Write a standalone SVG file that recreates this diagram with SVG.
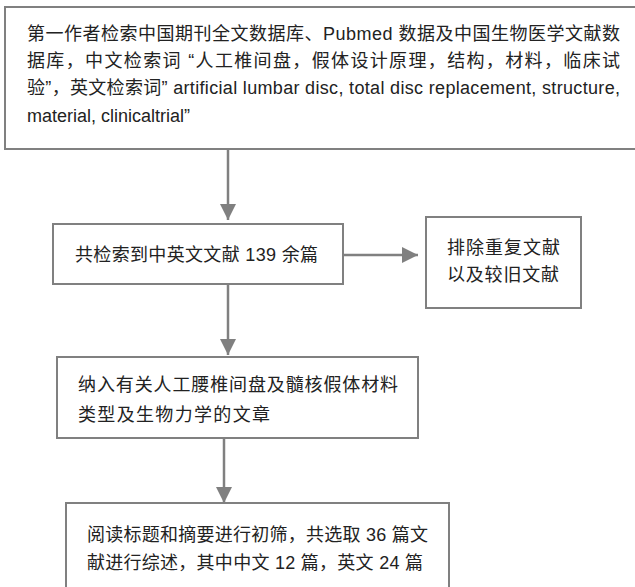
<svg xmlns="http://www.w3.org/2000/svg" width="635" height="587" viewBox="0 0 635 587">
<defs>
<style>
.box{fill:#fff;stroke:#808080;stroke-width:2}
.t{font-family:"Liberation Sans","Noto Sans CJK SC",sans-serif;font-size:18px;fill:#222}
.c{stroke:#808080;stroke-width:2.5;fill:none}
</style>
<marker id="ah" viewBox="0 0 16 16" refX="16" refY="8" markerWidth="16" markerHeight="16" markerUnits="userSpaceOnUse" orient="auto">
<path d="M0,0 L16,8 L0,16 Z" fill="#808080"/>
</marker>
</defs>
<rect width="635" height="587" fill="#fff"/>
<g id="connectors">
<line class="c" x1="228" y1="150" x2="228" y2="220" marker-end="url(#ah)"/>
<line class="c" x1="344" y1="255" x2="418" y2="255" marker-end="url(#ah)"/>
<line class="c" x1="228" y1="285" x2="228" y2="355" marker-end="url(#ah)"/>
<line class="c" x1="224" y1="439" x2="224" y2="503" marker-end="url(#ah)"/>
</g>
<g id="n1">
<rect class="box" x="5" y="7" width="640" height="142"/>
<text class="t" x="27" y="40" textLength="593" lengthAdjust="spacing">第一作者检索中国期刊全文数据库、Pubmed 数据及中国生物医学文献数</text>
<text class="t" x="27" y="67" textLength="593" lengthAdjust="spacing">据库，中文检索词 “人工椎间盘，假体设计原理，结构，材料，临床试</text>
<text class="t" x="27" y="94" textLength="593" lengthAdjust="spacing">验”，英文检索词” artificial lumbar disc, total disc replacement, structure,</text>
<text class="t" x="27" y="122">material, clinicaltrial”</text>
</g>
<g id="n2">
<rect class="box" x="53" y="224" width="290" height="60"/>
<text class="t" x="75" y="261" textLength="243" lengthAdjust="spacing">共检索到中英文文献 139 余篇</text>
</g>
<g id="n3">
<rect class="box" x="426" y="217" width="155" height="91"/>
<text class="t" x="447" y="254" textLength="113" lengthAdjust="spacing">排除重复文献</text>
<text class="t" x="447" y="281" textLength="112" lengthAdjust="spacing">以及较旧文献</text>
</g>
<g id="n4">
<rect class="box" x="57" y="357" width="361" height="81"/>
<text class="t" x="78" y="391" textLength="320" lengthAdjust="spacing">纳入有关人工腰椎间盘及髓核假体材料</text>
<text class="t" x="78" y="421" textLength="192" lengthAdjust="spacing">类型及生物力学的文章</text>
</g>
<g id="n5">
<rect class="box" x="66" y="503" width="383" height="100"/>
<text class="t" x="87" y="541" textLength="341" lengthAdjust="spacing">阅读标题和摘要进行初筛，共选取 36 篇文</text>
<text class="t" x="87" y="569" textLength="336" lengthAdjust="spacing">献进行综述，其中中文 12 篇，英文 24 篇</text>
</g>
</svg>
